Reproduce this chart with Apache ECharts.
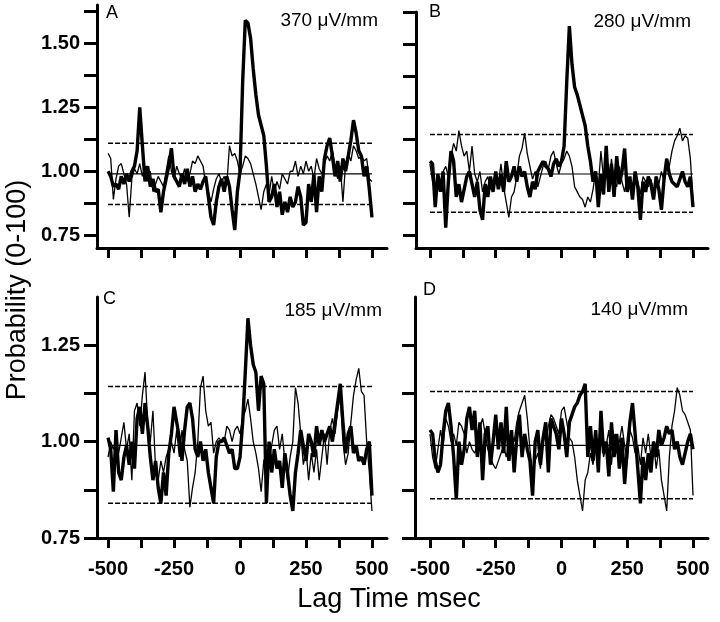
<!DOCTYPE html>
<html>
<head>
<meta charset="utf-8">
<script src="https://cdn.jsdelivr.net/npm/echarts@6/dist/echarts.min.js"></script>
<style>
  html, body { margin: 0; padding: 0; background: #fff; }
  #chart { width: 720px; height: 622px; }
</style>
</head>
<body>
<div id="chart"></div>
<script>
// lag bins, msec
const lag = [];
for (let t = -500; t <= 500; t += 10) lag.push(t);

const xTicks = [-500, -375, -250, -125, 0, 125, 250, 375, 500];
const xLabels = [-500, -250, 0, 250, 500];
const yLabelsTop = [0.75, 1.00, 1.25, 1.50];
const yTicksTop = [0.75, 0.875, 1.00, 1.125, 1.25, 1.375, 1.50, 1.625];
const yLabelsBottom = [0.75, 1.00, 1.25];
const yTicksBottom = [0.75, 0.875, 1.00, 1.125, 1.25];

// panel A, 370 uV/mm
const aThick = [1.00,0.98,0.94,0.95,0.93,0.98,0.95,0.99,0.96,1.00,1.02,1.08,1.25,1.10,0.96,1.02,0.94,0.97,0.92,0.93,
  0.84,0.92,0.97,1.02,1.09,0.98,0.96,0.94,0.99,0.95,1.01,0.94,0.98,0.92,0.95,0.93,0.96,0.98,0.90,0.82,
  0.79,0.88,0.94,0.97,0.92,0.98,0.94,0.85,0.77,0.92,1.00,1.35,1.59,1.58,1.52,1.40,1.30,1.22,1.18,1.14,
  1.02,0.88,0.90,0.95,0.86,0.92,0.83,0.88,0.84,0.90,0.86,0.88,0.94,0.90,0.79,0.80,0.95,0.88,0.99,0.84,
  0.98,0.92,1.05,1.10,1.13,1.06,0.98,1.04,0.96,1.05,1.00,1.06,1.12,1.20,1.15,1.08,1.06,0.98,1.02,0.93,0.82];
const aThin = [1.07,1.05,0.89,0.97,1.02,1.03,0.99,0.95,0.82,0.97,1.01,0.99,1.03,0.98,1.02,0.96,1.00,0.92,0.95,0.98,
  0.96,0.94,1.00,1.06,1.00,0.97,1.02,0.99,0.97,1.01,0.96,0.99,1.04,1.03,1.06,1.04,1.02,0.95,0.92,0.88,
  0.93,0.97,0.99,0.96,0.98,0.95,1.10,1.06,1.07,1.04,0.99,1.02,1.06,1.05,1.03,0.99,0.95,0.90,0.85,0.92,
  0.95,0.91,0.98,0.92,0.96,0.93,0.99,0.97,0.95,1.00,1.00,1.04,0.98,1.02,0.99,1.04,1.00,1.02,0.97,1.05,
  1.01,0.99,1.03,1.06,1.04,1.08,1.02,0.97,1.02,0.88,1.03,1.07,1.04,1.10,1.08,1.05,1.06,1.04,1.05,0.97,0.96];
const aRef = [0.99, 1.11, 0.87];

// panel B, 280 uV/mm
const bThick = [1.04,1.03,0.86,0.99,0.92,1.00,0.78,0.96,1.08,1.04,0.90,0.95,0.88,0.93,0.98,1.00,0.95,0.90,0.96,0.85,
  0.81,0.95,0.90,0.98,0.92,1.00,0.93,0.99,0.92,1.04,0.96,0.98,1.02,0.96,1.02,0.98,1.00,0.94,0.90,0.96,
  0.93,1.00,1.02,1.04,1.02,1.01,0.98,1.03,1.05,1.02,1.04,1.10,1.35,1.57,1.42,1.33,1.30,1.26,1.22,1.18,
  1.10,1.04,0.96,1.00,0.86,0.99,0.91,1.10,0.92,1.03,0.90,1.06,0.95,1.00,1.09,0.92,0.98,0.89,1.00,0.94,
  0.81,0.96,0.92,0.98,0.95,0.89,0.98,0.93,0.85,0.97,1.05,0.99,0.96,0.95,0.94,0.97,1.00,0.96,0.94,0.98,0.86];
const bThin = [1.03,0.96,0.92,0.99,0.95,1.00,1.02,0.98,1.06,1.11,1.08,1.16,1.10,1.06,1.08,1.00,1.10,0.99,0.96,1.00,
  0.92,0.96,0.98,0.93,0.96,0.99,0.95,1.03,0.94,0.88,0.82,0.90,0.92,0.98,1.06,1.09,1.15,1.07,1.02,0.97,
  1.00,0.94,0.98,1.02,1.04,1.01,1.06,1.08,1.03,0.99,1.03,1.05,1.08,1.06,1.02,0.94,0.92,0.90,0.89,0.86,
  0.90,0.88,0.93,1.00,0.94,1.08,0.97,1.00,0.93,1.05,0.96,0.94,1.02,0.96,0.92,0.98,0.95,0.93,0.97,0.96,
  0.91,0.98,0.96,0.94,0.97,0.92,0.98,0.95,1.00,0.96,1.05,1.02,1.08,1.12,1.14,1.17,1.12,1.14,1.13,1.05,0.88];
const bRef = [0.99, 1.145, 0.84];

// panel C, 185 uV/mm
const cThick = [1.01,0.98,0.87,1.03,0.92,0.90,0.96,0.99,0.94,1.00,0.93,1.06,1.09,1.02,1.10,1.04,0.96,0.90,0.95,0.88,
  0.84,0.92,0.86,0.97,1.02,1.09,1.05,1.01,0.95,1.03,1.09,1.10,1.06,0.98,0.96,1.00,0.95,0.98,0.92,0.88,
  0.84,0.96,1.00,1.00,1.01,0.99,0.97,0.98,0.93,0.93,0.96,1.05,1.18,1.32,1.25,1.20,1.18,1.08,1.17,1.15,
  0.84,1.00,0.92,0.98,0.93,0.95,0.88,0.97,0.92,0.86,0.82,0.92,0.97,1.03,0.99,0.95,1.02,1.00,0.96,1.04,
  0.99,1.03,1.00,1.02,1.04,1.00,1.05,1.10,1.15,1.05,0.97,1.02,1.04,0.97,0.99,0.95,0.96,0.94,0.98,1.00,0.86];
const cThin = [0.96,1.00,0.98,1.00,0.97,1.01,1.05,0.98,1.02,0.90,1.08,1.10,1.04,1.12,1.18,1.05,1.00,1.08,0.93,0.90,
  0.95,0.92,0.96,0.98,1.00,0.97,1.03,0.96,1.03,0.98,0.95,0.83,0.88,0.92,1.00,1.14,1.17,1.08,1.04,1.05,
  0.97,1.00,1.01,1.00,1.00,1.04,1.03,1.00,1.03,1.04,1.02,1.06,1.08,1.11,1.06,1.00,0.97,0.93,0.87,0.95,
  0.97,0.95,0.99,1.03,1.04,0.98,1.02,0.95,0.90,0.96,1.00,1.14,1.10,1.02,0.94,0.98,0.90,0.97,0.92,0.98,
  0.90,0.96,1.02,0.94,1.03,1.06,1.02,1.08,1.12,1.00,0.94,0.97,1.05,1.12,1.16,1.19,1.13,1.12,1.00,0.92,0.82];
const cRef = [0.99, 1.143, 0.84];

// panel D, 140 uV/mm
const dThick = [1.03,1.02,0.95,0.92,0.94,1.02,1.08,1.10,1.04,0.96,0.85,1.00,0.94,0.98,1.06,1.09,1.03,1.08,0.96,1.05,
  0.90,1.02,1.04,0.94,1.00,1.07,0.98,1.05,0.97,1.09,0.95,1.03,0.92,1.01,1.07,0.96,1.02,0.98,0.95,0.86,
  1.00,1.03,0.94,1.01,1.05,0.92,1.06,1.04,1.02,0.98,1.06,1.02,0.96,1.05,1.07,1.09,1.10,1.12,1.13,1.15,
  0.96,1.04,0.95,1.03,0.92,1.08,0.97,1.00,0.91,1.05,0.96,1.02,0.93,1.01,0.89,0.98,1.05,1.10,1.02,0.93,
  0.84,0.96,0.90,0.97,0.92,1.00,0.96,1.03,0.99,1.01,1.04,1.02,1.03,0.98,1.00,0.96,0.94,0.97,1.00,1.02,0.98];
const dThin = [1.02,0.96,0.93,0.98,1.03,0.99,1.06,1.04,1.00,1.02,0.99,1.05,1.04,1.02,0.97,1.00,0.98,0.97,0.99,1.04,
  1.06,1.02,0.98,0.96,0.94,0.93,0.95,0.97,0.99,0.96,1.00,1.02,1.00,1.05,1.08,1.10,1.12,1.06,0.98,0.92,
  0.95,0.97,0.93,1.02,1.00,1.04,1.07,1.06,1.04,1.02,1.08,1.09,1.05,1.01,1.00,0.96,0.90,0.86,0.82,0.90,
  0.92,0.97,0.94,1.00,0.98,1.02,0.96,0.99,1.03,0.94,1.02,0.97,1.00,1.04,0.99,0.95,1.03,1.01,0.97,0.99,
  0.94,1.01,0.97,1.02,0.96,1.00,0.93,0.98,0.90,0.86,0.82,0.96,1.04,1.08,1.14,1.12,1.08,1.07,1.05,1.03,0.86];
const dRef = [0.99, 1.13, 0.852];

const fieldLabels = ['370 μV/mm', '280 μV/mm', '185 μV/mm', '140 μV/mm'];
const panelLetters = ['A', 'B', 'C', 'D'];

const FONT = '"Liberation Sans", Arial, sans-serif';

function pairs(vals) {
  return vals.map((v, i) => [lag[i], v]);
}

const grids = [
  { left: 97, top: 5, width: 290, height: 243 },
  { left: 416, top: 12, width: 292, height: 236 },
  { left: 97, top: 297, width: 290, height: 241 },
  { left: 415, top: 297, width: 293, height: 241 }
];
const xRanges = [[-542, 557], [-553, 557], [-542, 557], [-557, 557]];
const yRanges = [[0.70, 1.65], [0.70, 1.625], [0.75, 1.375], [0.75, 1.375]];

const xAxes = grids.map((g, i) => ({
  type: 'value',
  gridIndex: i,
  min: xRanges[i][0],
  max: xRanges[i][1],
  axisLine: { onZero: false, lineStyle: { color: '#000', width: 3 } },
  axisTick: { customValues: xTicks, length: 10, lineStyle: { color: '#000', width: 3 } },
  axisLabel: {
    show: i >= 2,
    customValues: xLabels,
    margin: 21,
    color: '#000',
    fontSize: 20,
    fontWeight: 'bold',
    fontFamily: FONT
  },
  splitLine: { show: false }
}));

const yAxes = grids.map((g, i) => ({
  type: 'value',
  gridIndex: i,
  min: yRanges[i][0],
  max: yRanges[i][1],
  axisLine: { show: true, onZero: false, lineStyle: { color: '#000', width: 3 } },
  axisTick: {
    customValues: i < 2 ? yTicksTop : yTicksBottom,
    length: 13,
    lineStyle: { color: '#000', width: 3 }
  },
  axisLabel: {
    show: i % 2 === 0,
    customValues: i < 2 ? yLabelsTop : yLabelsBottom,
    formatter: v => v.toFixed(2),
    margin: 17,
    color: '#000',
    fontSize: 20,
    fontWeight: 'bold',
    fontFamily: FONT
  },
  splitLine: { show: false }
}));

const panels = [
  [aThick, aThin, aRef],
  [bThick, bThin, bRef],
  [cThick, cThin, cRef],
  [dThick, dThin, dRef]
];

const series = [];
panels.forEach((p, i) => {
  const ref = p[2];
  series.push({
    type: 'line', xAxisIndex: i, yAxisIndex: i, symbol: 'none',
    data: [[-500, ref[0]], [500, ref[0]]],
    lineStyle: { color: '#000', width: 1.2 }
  });
  [ref[1], ref[2]].forEach(v => series.push({
    type: 'line', xAxisIndex: i, yAxisIndex: i, symbol: 'none',
    data: [[-500, v], [500, v]],
    lineStyle: { color: '#000', width: 1.5, type: [5, 2] }
  }));
  series.push({
    type: 'line', xAxisIndex: i, yAxisIndex: i, symbol: 'none',
    data: pairs(p[1]),
    lineStyle: { color: '#000', width: 1.3 }
  });
  series.push({
    type: 'line', xAxisIndex: i, yAxisIndex: i, symbol: 'none',
    data: pairs(p[0]),
    lineStyle: { color: '#000', width: 3.4 }
  });
});

const letterPos = [[106, 4], [429, 3], [103, 290], [423, 281]];
const fieldPos = [[378, 11], [691, 12], [382, 301], [688, 300]];

const graphics = [];
panelLetters.forEach((t, i) => graphics.push({
  type: 'text', left: letterPos[i][0], top: letterPos[i][1],
  style: { text: t, font: '18px ' + FONT, fill: '#000' }
}));
fieldLabels.forEach((t, i) => graphics.push({
  type: 'text', x: fieldPos[i][0], y: fieldPos[i][1],
  style: { text: t, font: '19px ' + FONT, fill: '#000', textAlign: 'right', textVerticalAlign: 'top' }
}));
graphics.push({
  type: 'text', x: 18, y: 290, rotation: Math.PI / 2,
  style: { text: 'Probability (0-100)', font: '27px ' + FONT, fill: '#000', textAlign: 'center', textVerticalAlign: 'middle' }
});
graphics.push({
  type: 'text', x: 389, y: 600,
  style: { text: 'Lag Time msec', font: '27px ' + FONT, fill: '#000', textAlign: 'center', textVerticalAlign: 'middle' }
});

const myChart = echarts.init(document.getElementById('chart'));
myChart.setOption({
  animation: false,
  backgroundColor: '#fff',
  grid: grids,
  xAxis: xAxes,
  yAxis: yAxes,
  series: series,
  graphic: graphics
});
</script>
</body>
</html>
